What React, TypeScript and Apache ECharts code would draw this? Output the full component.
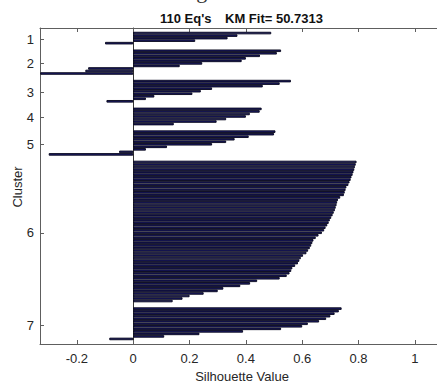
import React, { useEffect, useRef } from 'react';
import * as echarts from 'echarts';

// Silhouette values per cluster (sorted descending within each cluster)
const clusterNames = ['1', '2', '3', '4', '5', '6', '7'];
const cluster1 = [0.49, 0.37, 0.335, 0.22, -0.1];
const cluster2 = [0.525, 0.51, 0.45, 0.4, 0.385, 0.245, 0.165, -0.16, -0.17, -0.33];
const cluster3 = [0.56, 0.52, 0.46, 0.28, 0.24, 0.21, 0.075, 0.045, -0.095];
const cluster4 = [0.456, 0.449, 0.414, 0.4, 0.33, 0.296, 0.144];
const cluster5 = [0.505, 0.5, 0.41, 0.36, 0.33, 0.28, 0.12, 0.045, -0.05, -0.3];
const cluster6 = [
  0.793, 0.79, 0.787, 0.785, 0.782, 0.779, 0.775, 0.772, 0.768, 0.764,
  0.757, 0.754, 0.751, 0.748, 0.735, 0.727, 0.724, 0.722, 0.719, 0.716,
  0.712, 0.708, 0.703, 0.698, 0.694, 0.689, 0.683, 0.678, 0.67, 0.658,
  0.648, 0.64, 0.636, 0.632, 0.627, 0.621, 0.615, 0.603, 0.595, 0.59,
  0.585, 0.575, 0.565, 0.561, 0.555, 0.545, 0.52, 0.44, 0.415, 0.38,
  0.32, 0.3, 0.25, 0.2, 0.175, 0.14,
];
const cluster7 = [0.74, 0.73, 0.715, 0.7, 0.685, 0.66, 0.62, 0.6, 0.525, 0.39, 0.235, 0.11, -0.085];

const xTickValues = [-0.2, 0, 0.2, 0.4, 0.6, 0.8, 1];
const xMin = -0.331;
const xMax = 1.1;
const gapBars = 2;

const topHeading = 'Tidal Surge Wave Cluster 7';
const titleLeft = "110 Eq's";
const titleRight = 'KM Fit= 50.7313';
const xAxisTitle = 'Silhouette Value';
const yAxisTitle = 'Cluster';

const SANS = '"Liberation Sans", Arial, Helvetica, sans-serif';

export default function App() {
  const ref = useRef<HTMLDivElement>(null);

  useEffect(() => {
    if (!ref.current) return;
    const chart = echarts.init(ref.current, null, { renderer: 'svg' });

    const clusters = [cluster1, cluster2, cluster3, cluster4, cluster5, cluster6, cluster7];
    const bars: (number | null)[] = Array(gapBars).fill(null);
    const ticks: number[] = [];
    clusters.forEach((c) => {
      bars.push(...c);
      bars.push(...Array(gapBars).fill(null));
      ticks.push(bars.length - 0.5 * (c.length + gapBars));
    });
    const cats = bars.map((_, i) => String(i + 1));
    const n = bars.length;

    const axisColor = '#5e5e5e';
    const textColor = '#262626';

    chart.setOption({
      animation: false,
      backgroundColor: '#ffffff',
      grid: {
        left: 40,
        top: 28,
        right: -6,
        bottom: 39,
        outerBoundsMode: 'none',
        containLabel: false,
      },
      xAxis: [
        {
          type: 'value',
          min: xMin,
          max: xMax,
          position: 'bottom',
          axisLine: { show: true, onZero: false, lineStyle: { color: axisColor, width: 1 } },
          axisTick: {
            show: true,
            inside: true,
            length: 4,
            customValues: xTickValues,
            lineStyle: { color: axisColor },
          },
          axisLabel: {
            show: true,
            customValues: xTickValues,
            formatter: (v: number) => String(v),
            color: textColor,
            fontSize: 13,
            fontFamily: SANS,
            margin: 8,
          },
          splitLine: { show: false },
        },
        {
          type: 'value',
          min: xMin,
          max: xMax,
          position: 'top',
          axisLine: { show: true, onZero: false, lineStyle: { color: axisColor, width: 1 } },
          axisTick: {
            show: true,
            inside: true,
            length: 4,
            customValues: xTickValues,
            lineStyle: { color: axisColor },
          },
          axisLabel: { show: false },
          splitLine: { show: false },
        },
      ],
      yAxis: [
        {
          type: 'category',
          data: cats,
          inverse: true,
          boundaryGap: false,
          position: 'left',
          axisLine: { show: true, onZero: true, lineStyle: { color: '#333', width: 1 } },
          axisTick: { show: false },
          axisLabel: { show: false },
          splitLine: { show: false },
        },
        {
          type: 'value',
          min: 1,
          max: n,
          inverse: true,
          position: 'left',
          axisLine: { show: true, onZero: false, lineStyle: { color: axisColor, width: 1 } },
          axisTick: {
            show: true,
            inside: true,
            length: 4,
            customValues: ticks,
            lineStyle: { color: axisColor },
          },
          axisLabel: {
            show: true,
            customValues: ticks,
            formatter: (v: number) => {
              const idx = ticks.findIndex((t) => Math.abs(t - v) < 1e-6);
              return idx >= 0 ? clusterNames[idx] : '';
            },
            color: textColor,
            fontSize: 13,
            fontFamily: SANS,
            margin: 6,
          },
          splitLine: { show: false },
        },
      ],
      series: [
        {
          type: 'bar',
          xAxisIndex: 0,
          yAxisIndex: 0,
          data: bars.map((v) => (v === null ? '-' : v)),
          barWidth: '100%',
          barCategoryGap: '0%',
          itemStyle: {
            color: '#1c1c68',
            borderColor: '#04041a',
            borderWidth: 0.9,
          },
          silent: true,
        },
      ],
      graphic: [
        {
          type: 'text',
          x: 236,
          y: 1,
          style: {
            text: topHeading,
            font: '22px "Liberation Serif", "DejaVu Serif", serif',
            fill: '#333',
            align: 'center',
            textAlign: 'center',
            verticalAlign: 'bottom',
            textVerticalAlign: 'bottom',
          },
        },
        {
          type: 'text',
          x: 160,
          y: 18,
          style: {
            text: titleLeft,
            font: `bold 13px ${SANS}`,
            fill: '#111',
            align: 'left',
            textAlign: 'left',
            verticalAlign: 'middle',
            textVerticalAlign: 'middle',
          },
        },
        {
          type: 'text',
          x: 225,
          y: 18,
          style: {
            text: titleRight,
            font: `bold 13px ${SANS}`,
            fill: '#111',
            align: 'left',
            textAlign: 'left',
            verticalAlign: 'middle',
            textVerticalAlign: 'middle',
          },
        },
        {
          type: 'text',
          x: 242,
          y: 376,
          style: {
            text: xAxisTitle,
            font: `13px ${SANS}`,
            fill: textColor,
            align: 'center',
            textAlign: 'center',
            verticalAlign: 'middle',
            textVerticalAlign: 'middle',
          },
        },
        {
          type: 'text',
          x: 17,
          y: 187,
          rotation: Math.PI / 2,
          style: {
            text: yAxisTitle,
            font: `13px ${SANS}`,
            fill: textColor,
            align: 'center',
            textAlign: 'center',
            verticalAlign: 'middle',
            textVerticalAlign: 'middle',
          },
        },
      ],
    });

    return () => {
      chart.dispose();
    };
  }, []);

  return (
    <div
      ref={ref}
      style={{ position: 'fixed', left: 0, top: 0, width: 437, height: 383, background: '#fff' }}
    />
  );
}
